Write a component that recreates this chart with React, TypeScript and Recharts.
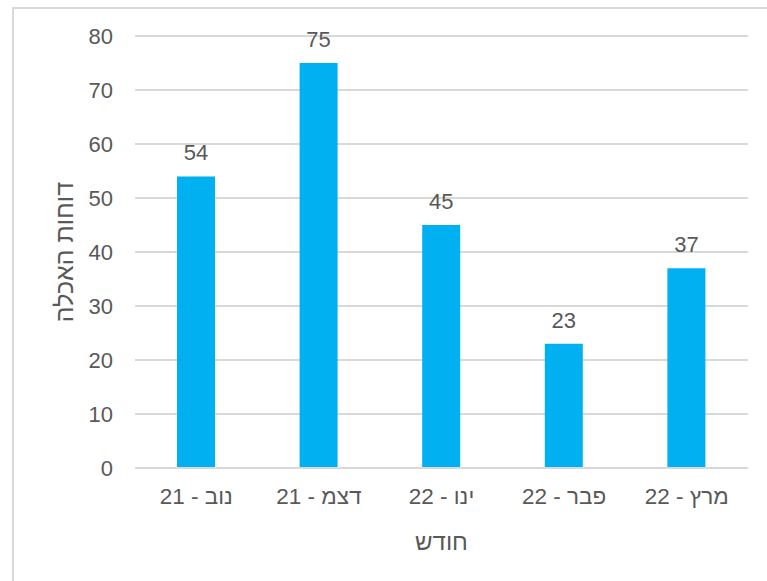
import React from "react";
import { BarChart, Bar, XAxis, YAxis, CartesianGrid, LabelList, Label } from "recharts";

const months = ["נוב - 21", "דצמ - 21", "ינו - 22", "פבר - 22", "מרץ - 22"];
const reports = [54, 75, 45, 23, 37];
const yTicks = [0, 10, 20, 30, 40, 50, 60, 70, 80];
const xTitle = "חודש";
const yTitle = "דוחות האכלה";

const data = months.map((m, i) => ({ month: m, value: reports[i] }));

const FONT = '"Liberation Sans", Arial, sans-serif';
const TEXT = "#595959";

const XTick = (props: any) => {
  const { x, y, payload } = props;
  return (
    <text x={x} y={y} dy={28} textAnchor="middle" direction="rtl" fill={TEXT} fontFamily={FONT} fontSize={22.5}>
      {payload.value}
    </text>
  );
};

export default function App() {
  return (
    <div style={{ position: "absolute", left: 0, top: 0, width: 767, height: 581, background: "#fff" }}>
      <div
        style={{
          position: "absolute",
          left: 12,
          top: 7,
          width: 780,
          height: 600,
          border: "2px solid #D9D9D9",
          boxSizing: "border-box",
        }}
      />
      <div style={{ position: "absolute", left: 0, top: 0 }}>
        <BarChart width={767} height={581} data={data} margin={{ top: 36, right: 19, bottom: 0, left: 0 }} barCategoryGap={0}>
          <CartesianGrid vertical={false} stroke="#D9D9D9" strokeWidth={2} />
          <XAxis
            dataKey="month"
            axisLine={{ stroke: "#D9D9D9", strokeWidth: 2 }}
            tickLine={false}
            tick={<XTick />}
            interval={0}
            height={113}
          >
            <Label
              value={xTitle}
              position="insideTop"
              content={(p: any) => {
                const vb = p.viewBox;
                const cx = vb.x + vb.width / 2;
                return (
                  <text x={cx} y={541} textAnchor="middle" dominantBaseline="central" fill={TEXT} fontFamily={FONT} fontSize={24}>
                    {xTitle}
                  </text>
                );
              }}
            />
          </XAxis>
          <YAxis
            width={135}
            domain={[0, 80]}
            ticks={yTicks}
            axisLine={false}
            tickLine={false}
            tickSize={0}
            tickMargin={22}
            tick={{ fill: TEXT, fontFamily: FONT, fontSize: 22 }}
            interval={0}
          >
            <Label
              value={yTitle}
              position="center"
              content={(p: any) => {
                const vb = p.viewBox;
                const cx = 64;
                const cy = vb.y + vb.height / 2;
                return (
                  <text x={cx} y={cy} transform={`rotate(-90 ${cx} ${cy})`} textAnchor="middle" dominantBaseline="central" fill={TEXT} fontFamily={FONT} fontSize={25}>
                    {yTitle}
                  </text>
                );
              }}
            />
          </YAxis>
          <Bar dataKey="value" fill="#00B0F0" barSize={38} isAnimationActive={false}>
            <LabelList dataKey="value" position="top" offset={16} fill={TEXT} fontFamily={FONT} fontSize={22} />
          </Bar>
        </BarChart>
      </div>
    </div>
  );
}
